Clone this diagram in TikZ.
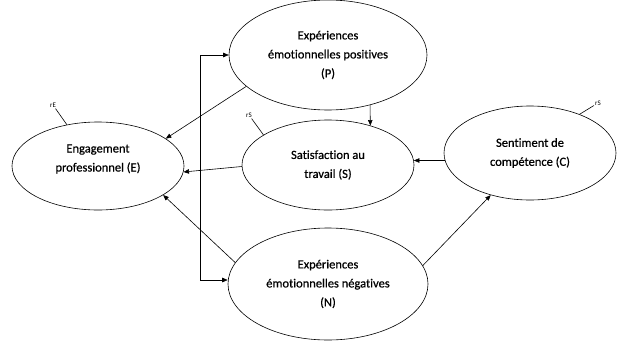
\documentclass[tikz,border=0pt]{standalone}
\usepackage{fontspec}
\setmainfont{Carlito}[Ligatures=NoCommon]
\newfontfamily\nodefont{Carlito}[Ligatures=NoCommon, RawFeature={embolden=0.6}]
\usetikzlibrary{arrows.meta,shapes.geometric}

\begin{document}
\begin{tikzpicture}[
    x=1pt, y=-1pt,
    >={Triangle[length=5.5pt,width=4.5pt]},
    every path/.style={line width=0.6pt},
    latent/.style={
        draw,
        ellipse,
        inner sep=0pt,
        align=center,
        font=\nodefont\fontsize{12.5}{19}\selectfont
    },
    resid/.style={font=\fontsize{7}{8}\selectfont, inner sep=1pt}
]
\useasboundingbox (0,0) rectangle (617,345);

\node[latent, minimum width=172pt, minimum height=88pt] (E) at (98,166)
    {Engagement\\professionnel (E)\\[-3pt]};
\node[latent, minimum width=198pt, minimum height=110pt] (P) at (328,55)
    {Expériences\\émotionnelles positives\\(P)};
\node[latent, minimum width=172pt, minimum height=90pt] (S) at (328,165)
    {Satisfaction au\\travail (S)};
\node[latent, minimum width=172pt, minimum height=94pt] (C) at (530,153)
    {Sentiment de\\compétence (C)};
\node[latent, minimum width=200pt, minimum height=112pt] (N) at (328,284)
    {Expériences\\émotionnelles négatives\\(N)};

% residual terms
\node[resid] (rE) at (53,105) {rE};
\node[resid] (rS) at (249,115) {rS};
\node[resid] (rC) at (598,103) {rS};
\draw (rE) -- (E.127);
\draw (rS) -- (S.155);
\draw (rC) -- (C.38);

\draw[->] (P.201) -- (E.22);
\draw[->] (S.181) -- (E.-4);
\draw[->] (N.167) -- (E.-24);
\draw[->] (P.-50) -- (S.43);
\draw[->] (C.185) -- (S.3);
\draw[->] (N.11) -- (C.227);

\draw[<->] (P.west) -- ++(-28,0) |- ([yshift=4pt]N.west);

\end{tikzpicture}
\end{document}
